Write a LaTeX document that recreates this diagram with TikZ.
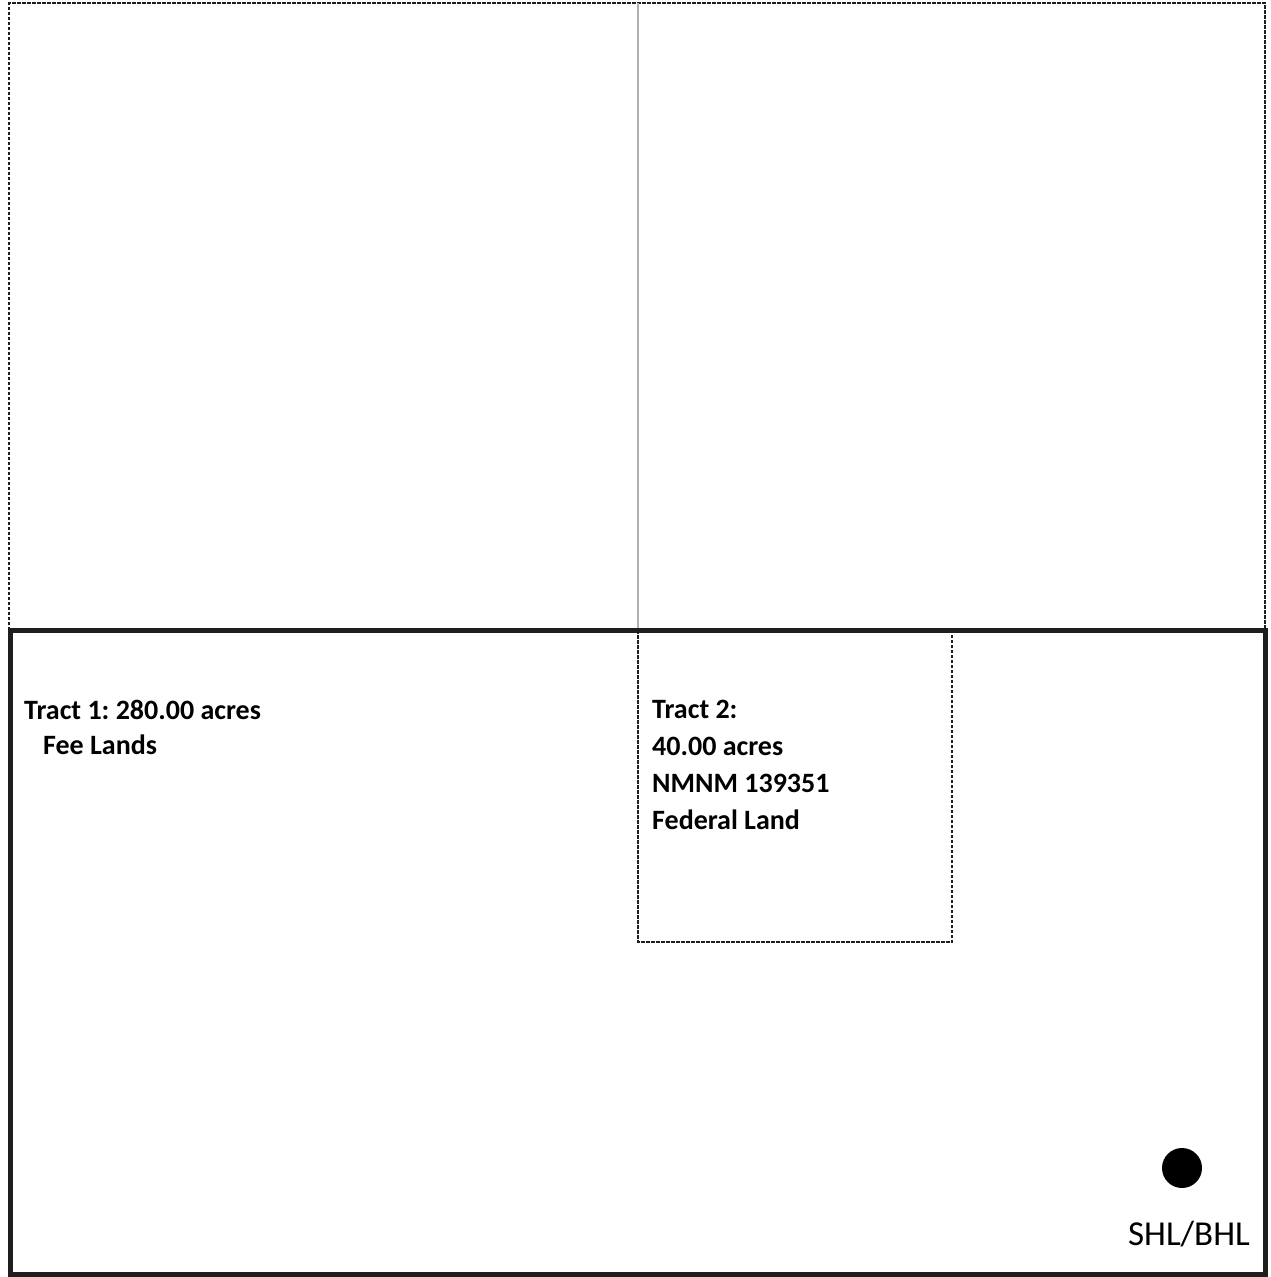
\documentclass[tikz,border=0pt]{standalone}
\usepackage{fontspec}
\setmainfont{Carlito}
\frenchspacing
\usetikzlibrary{positioning}
\definecolor{lineblack}{RGB}{30,30,30}
\definecolor{linegray}{RGB}{175,175,175}
\tikzset{
  tractline/.style={draw=lineblack,line width=2.4pt,dash pattern=on 3.5pt off 1.5pt},
  leaseline/.style={draw=lineblack,line width=5pt},
  secline/.style={draw=linegray,line width=2pt},
  lbl/.style={align=left,inner sep=0pt,anchor=north west,
              font=\fontsize{28}{37}\selectfont\bfseries},
  well/.style={circle,fill=black,minimum size=40pt,inner sep=0pt},
  welltxt/.style={inner sep=0pt,font=\fontsize{35}{42}\selectfont},
}

\begin{document}
\begin{tikzpicture}[x=1pt,y=-1pt]
  \useasboundingbox (0,0) rectangle (1270,1277);
  \coordinate (nw) at (9,3);
  \coordinate (ne) at (1265,3);
  \coordinate (w) at (10,630);
  \coordinate (e) at (1265,630);
  \coordinate (s) at (1265,1274);
  \coordinate (ntop) at (638,3);
  \coordinate (nmid) at (638,630);
  \coordinate (fedse) at (952,942);
  \draw[tractline] (w -| nw) -- (nw) -- (ne) -- (e);
  \draw[secline] (ntop) -- (nmid);
  \draw[leaseline] (w) rectangle (s);
  \draw[tractline] (nmid) rectangle (fedse);
  \node[lbl] (tract1) at (24,700) {Tract 1: 280.00 acres\\[-2pt]\hspace*{19pt}Fee Lands};
  \node[lbl,below right=70pt and 14pt of nmid] (tract2) {Tract 2:\\40.00 acres\\NMNM 139351\\Federal Land};
  \node[well] (shl) at (1182,1168) {};
  \node[welltxt,anchor=base east] (shltxt) at (1250,1245) {SHL/BHL};
\end{tikzpicture}
\end{document}
